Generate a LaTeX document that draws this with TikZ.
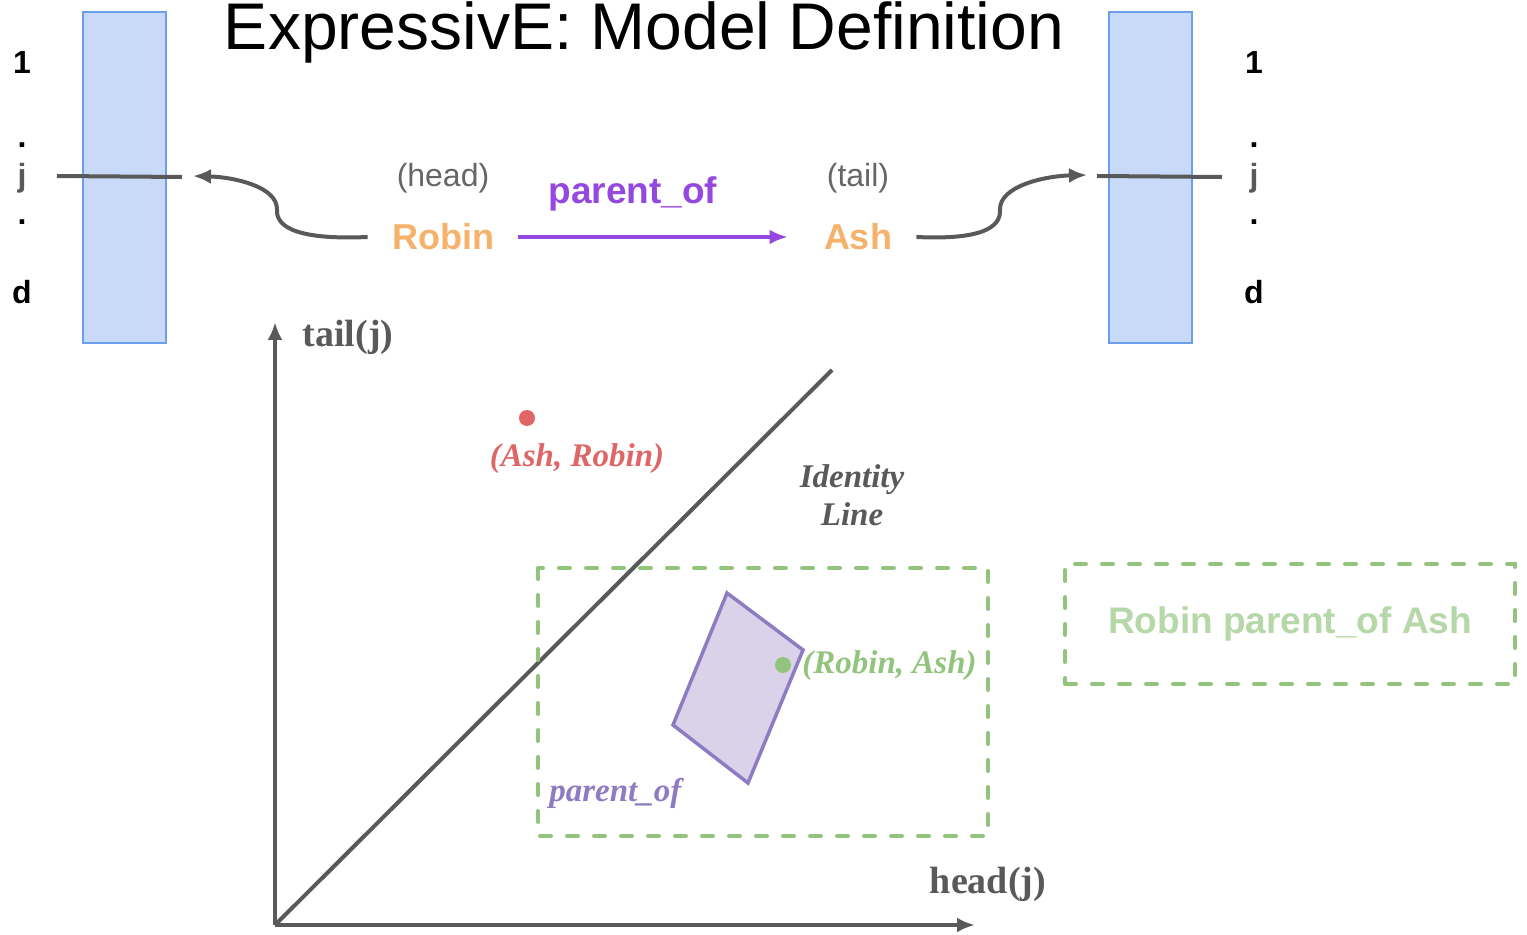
\documentclass[tikz,border=0pt]{standalone}
\usepackage{fontspec}
\setmainfont{Liberation Sans}
\newfontfamily\achsenfont{Liberation Serif}
\usepackage{tikz}
\usetikzlibrary{arrows.meta}
\definecolor{barfill}{HTML}{C9DAF8}
\definecolor{barrand}{HTML}{6D9EEB}
\definecolor{dunkelgrau}{HTML}{595959}
\definecolor{grau}{HTML}{666666}
\definecolor{orange1}{HTML}{F6B26B}
\definecolor{lila}{HTML}{9548DF}
\definecolor{lilarand}{HTML}{8E7CC3}
\definecolor{lilafill}{HTML}{D9D2E9}
\definecolor{rot}{HTML}{E06666}
\definecolor{gruen}{HTML}{93C47D}
\definecolor{hellgruen}{HTML}{B6D7A8}

\begin{document}
\begin{tikzpicture}[x=0.5pt, y=-0.5pt,
			>={Latex[length=9pt,width=7.5pt]},   %Pfeilspitzen
			balken/.style={draw=barrand, fill=barfill, line width=1pt, minimum width=41.5pt, minimum height=165.5pt, inner sep=0pt},
			idx/.style={font=\fontsize{16}{18}\selectfont\bfseries, inner sep=0pt},
			linie/.style={draw=dunkelgrau, line width=2pt},
			entity/.style={font=\fontsize{18}{20}\selectfont\bfseries, text=orange1, inner sep=12pt},
			rolle/.style={font=\fontsize{16}{18}\selectfont, text=grau},
			kursiv/.style={font=\achsenfont\fontsize{16.5}{19}\selectfont\bfseries\itshape, inner sep=1pt},
			punkt/.style={circle, fill=#1, minimum size=8pt, inner sep=0pt},
			gestrichelt/.style={draw=gruen, line width=2pt, line cap=round, dash pattern=on 5.5pt off 8pt}]
			\useasboundingbox (0,0) rectangle (1527,935);
			% Titel
			\node[font=\fontsize{33}{40}\selectfont, anchor=base] (titel) at (644,50) {ExpressivE: Model Definition};
			% Einbettungsvektoren
			\node[balken] (lbalken) at (124.5,177.5) {};
			\node[balken] (rbalken) at (1150,177.5) {};
			\foreach \xx/\s in {22/l,1254/r} {
				\node[idx] (eins\s) at (\xx,62) {1};
				\node[idx] (pa\s) at (\xx,145) {.};
				\node[idx, text=dunkelgrau] (j\s) at (\xx,178) {j};
				\node[idx] (pb\s) at (\xx,222) {.};
				\node[idx] (d\s) at (\xx,292) {d};
			}
			\draw[linie] (57,176) -- (182,177);
			\draw[linie] (1097,176) -- (1222,177);
			\coordinate (lziel) at (193,176);
			\coordinate (rziel) at (1087,175);
			% Tripel
			\node[entity] (robin) at (443,237) {Robin};
			\node[entity] (ash) at (858,237) {Ash};
			\node[rolle] (head) at (443,178) {(head)};
			\node[rolle] (tail) at (858,178) {(tail)};
			\node[font=\fontsize{18.5}{20}\selectfont\bfseries, text=lila] (rel) at (633,194) {parent\_of};
			\draw[linie,->] (robin.west) .. controls (300,240) and (276,228) .. (277,210) .. controls (278,186) and (232,177) .. (lziel);
			\draw[linie,->] (ash.east) .. controls (980,240) and (1001,228) .. (1000,210) .. controls (999,186) and (1045,176) .. (rziel);
			\draw[lila, line width=2pt, ->, shorten >=6pt] (robin.east) -- (ash.west);
			% Achsen zeichnen
			\coordinate (ursprung) at (275,925);
			\coordinate (yende) at (275,322);
			\coordinate (xende) at (975,925);
			\coordinate (diag) at (832,370);
			\draw[linie,->] (ursprung) -- (yende);
			\draw[linie,->] (ursprung) -- (xende);
			\node[font=\achsenfont\fontsize{19}{22}\selectfont\bfseries, text=dunkelgrau] (tailj) at (348,337) {tail(j)};
			\node[font=\achsenfont\fontsize{19}{22}\selectfont\bfseries, text=dunkelgrau] (headj) at (988,884) {head(j)};
			% Identitaet
			\draw[linie] (ursprung) -- (diag);
			\node[kursiv, text=dunkelgrau, align=center] (ident) at (852,495) {Identity\\Line};
			% Punkte und Relation
			\node[punkt=rot] (ar) at (527,418) {};
			\node[kursiv, text=rot] (arlbl) at (577,459) {(Ash, Robin)};
			\draw[gestrichelt] (538,568) rectangle (988,836);
			\draw[draw=lilarand, fill=lilafill, line width=1.75pt] (727,593) -- (803,650) -- (748,783) -- (673,725) -- cycle;
			\node[punkt=gruen] (ra) at (783,665) {};
			\node[kursiv, text=gruen, anchor=west] (ralbl) at (800,666) {(Robin, Ash)};
			\node[kursiv, text=lilarand, anchor=west] (rellbl) at (547,793) {parent\_of};
			\node[gestrichelt, minimum width=225pt, minimum height=60pt, font=\fontsize{18.5}{20}\selectfont\bfseries, text=hellgruen] (fakt) at (1290,624) {Robin parent\_of Ash};
		\end{tikzpicture}
\end{document}
